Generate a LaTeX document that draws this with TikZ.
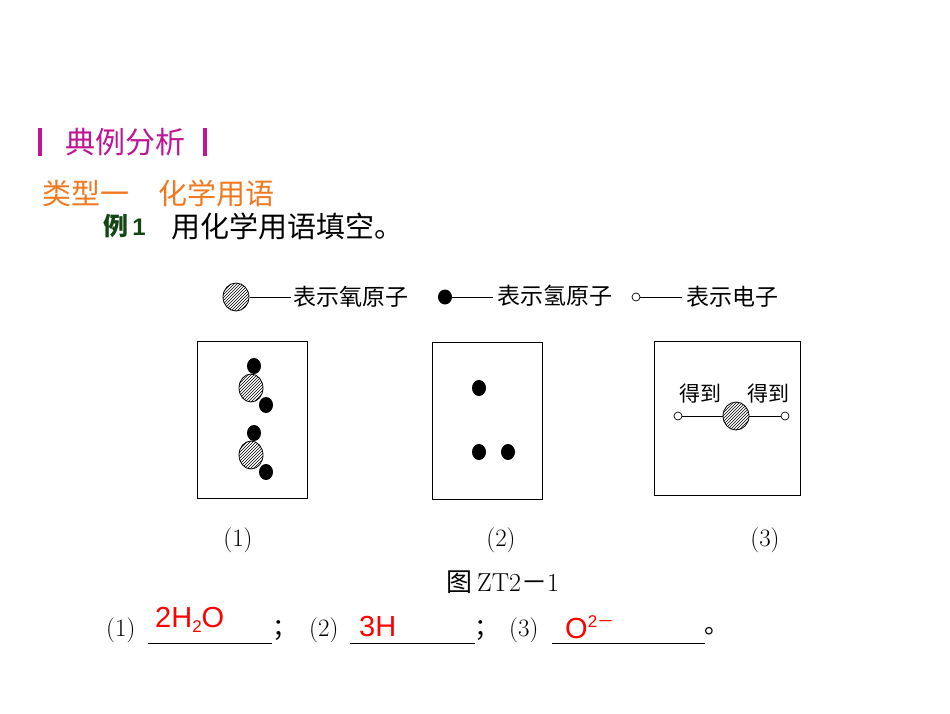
\documentclass[tikz,border=0pt]{standalone}
\usepackage{fontspec}
\newfontfamily\cjk{Noto Sans CJK SC}
\newfontfamily\lib{Liberation Sans}
\usetikzlibrary{patterns}
\definecolor{mag}{RGB}{190,20,150}
\definecolor{org}{RGB}{240,120,30}
\definecolor{dgreen}{RGB}{20,70,20}
\tikzset{
 oatom/.style={draw,line width=0.8pt,pattern=north east lines},
 hatom/.style={fill=black},
 eatom/.style={draw,fill=white,line width=0.7pt},
 boxx/.style={draw,line width=0.8pt},
 lab/.style={inner sep=0,anchor=west},
}
\begin{document}
\begin{tikzpicture}[x=1pt,y=-1pt,font=\cjk]
\useasboundingbox (0,0) rectangle (950,713);
\fill[mag] (38,128) rectangle (42,156);
\fill[mag] (203,128) rectangle (207,156);
\node[lab,mag,font=\cjk\fontsize{30}{30}\selectfont] (t1) at (65,142) {典例分析};
\node[lab,org,font=\cjk\fontsize{29}{29}\selectfont] (t2) at (42,193) {类型一\hspace{1em}化学用语};
\node[lab,dgreen,font=\cjk\bfseries\fontsize{25}{25}\selectfont] (t3) at (103,226) {例\,{\lib\bfseries\fontsize{24}{24}\selectfont 1}};
\node[lab,font=\cjk\fontsize{29}{29}\selectfont] (t4) at (171,226) {用化学用语填空。};
% legend
\path[oatom] (236,297) ellipse (13 and 14);
\coordinate (l1a) at (250,297); \coordinate (l1b) at (291,297);
\draw (l1a) -- (l1b);
\node[lab,font=\cjk\fontsize{23}{23}\selectfont] (lt1) at (293,297) {表示氧原子};
\fill[hatom] (445,297) ellipse (7 and 7.5);
\coordinate (l2a) at (452,297); \coordinate (l2b) at (493,297);
\draw (l2a) -- (l2b);
\node[lab,font=\cjk\fontsize{23}{23}\selectfont] (lt2) at (497,296) {表示氢原子};
\draw[eatom] (636,297) circle (4);
\coordinate (l3a) at (640,297); \coordinate (l3b) at (682,297);
\draw (l3a) -- (l3b);
\node[lab,font=\cjk\fontsize{23}{23}\selectfont] (lt3) at (686,297) {表示电子};
% boxes
\draw[boxx] (197,341) rectangle (307,498);
\draw[boxx] (432,342) rectangle (542,499);
\draw[boxx] (654,341) rectangle (800,495);
% box1
\foreach \y in {0,67}{
 \fill[hatom] (254,366+\y) ellipse (7 and 8);
 \fill[white] (251,388+\y) ellipse (12 and 14);
 \path[oatom] (251,388+\y) ellipse (12 and 14);
 \fill[hatom] (266,405+\y) ellipse (7 and 8);
}
% box2
\fill[hatom] (479,388) ellipse (7 and 8);
\fill[hatom] (479,452) ellipse (7 and 8);
\fill[hatom] (508,452) ellipse (7 and 8);
% box3
\draw (682,416) -- (781,416);
\draw[eatom] (678,416) circle (4);
\draw[eatom] (785,416) circle (4);
\fill[white] (736,416) ellipse (13 and 14);
\path[oatom] (736,416) ellipse (13 and 14);
\node[font=\cjk\fontsize{21}{21}\selectfont] (g1) at (700,394) {得到};
\node[font=\cjk\fontsize{21}{21}\selectfont] (g2) at (768,394) {得到};
% captions
\node[font=\rmfamily\fontsize{25}{25}\selectfont] (c1) at (238,540) {(1)};
\node[font=\rmfamily\fontsize{25}{25}\selectfont] (c2) at (501,540) {(2)};
\node[font=\rmfamily\fontsize{25}{25}\selectfont] (c3) at (765,540) {(3)};
\node[font=\cjk\fontsize{26}{26}\selectfont] (fig) at (503,582) {图\,{\rmfamily ZT2}－{\rmfamily 1}};
% answers
\node[lab,font=\rmfamily\fontsize{25}{25}\selectfont] (a1) at (106,630) {(1)};
\draw (148,643) -- (272,643);
\node[lab,red,font=\lib\fontsize{29}{29}\selectfont] (r1) at (155,620) {2H\raisebox{-0.35ex}{\fontsize{17}{17}\selectfont 2}O};
\node[lab,font=\cjk\fontsize{25}{25}\selectfont] (s1) at (272,631) {；};
\node[lab,font=\rmfamily\fontsize{25}{25}\selectfont] (a2) at (309,630) {(2)};
\draw (350,643) -- (475,643);
\node[lab,red,font=\lib\fontsize{29}{29}\selectfont] (r2) at (359,627) {3H};
\node[lab,font=\cjk\fontsize{25}{25}\selectfont] (s2) at (474,631) {；};
\node[lab,font=\rmfamily\fontsize{25}{25}\selectfont] (a3) at (509,630) {(3)};
\draw (552,643) -- (705,643);
\node[lab,red,font=\lib\fontsize{29}{29}\selectfont] (r3) at (565,627) {O\raisebox{0.7ex}{\fontsize{17}{17}\selectfont 2{\cjk －}}};
\node[lab,font=\cjk\fontsize{25}{25}\selectfont] (s3) at (704,631) {。};
\end{tikzpicture}
\end{document}
